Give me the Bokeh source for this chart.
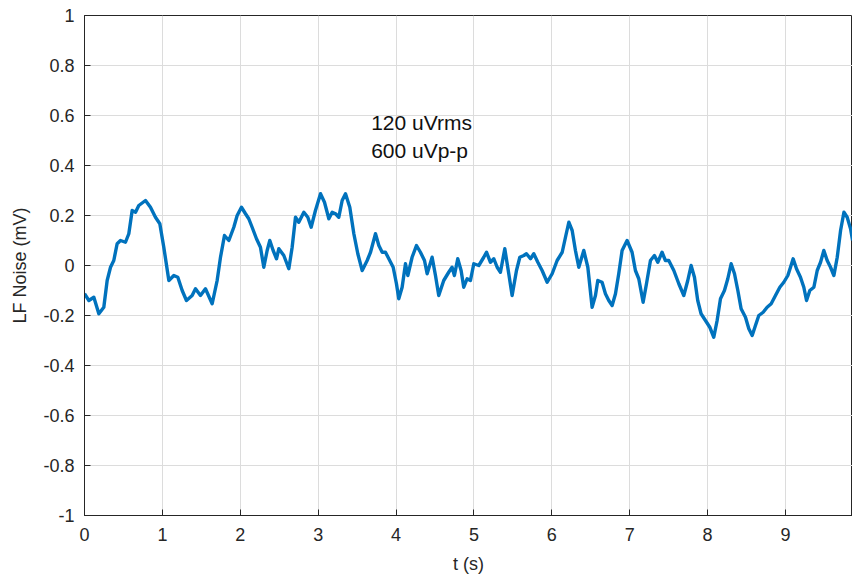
from bokeh.plotting import figure
from bokeh.models import FixedTicker, CustomJSTickFormatter, Label, Range1d
from bokeh.embed import file_html
from bokeh.resources import INLINE

t_s = [0.0, 0.056, 0.12, 0.184, 0.248, 0.291, 0.334, 0.376, 0.419, 0.462, 0.526, 0.569,
       0.612, 0.655, 0.697, 0.783, 0.847, 0.911, 0.967, 1.018, 1.083, 1.147, 1.198, 1.254,
       1.309, 1.382, 1.425, 1.489, 1.553, 1.639, 1.703, 1.746, 1.797, 1.853, 1.917, 1.96,
       2.015, 2.067, 2.109, 2.152, 2.208, 2.259, 2.302, 2.345, 2.379, 2.422, 2.465, 2.495,
       2.559, 2.623, 2.666, 2.709, 2.751, 2.816, 2.867, 2.91, 2.965, 3.03, 3.081, 3.137,
       3.18, 3.223, 3.265, 3.308, 3.351, 3.406, 3.458, 3.509, 3.565, 3.629, 3.672, 3.736,
       3.779, 3.822, 3.864, 3.907, 3.963, 4.005, 4.035, 4.078, 4.121, 4.151, 4.206, 4.262,
       4.313, 4.365, 4.399, 4.463, 4.506, 4.548, 4.612, 4.676, 4.719, 4.749, 4.792, 4.835,
       4.869, 4.912, 4.955, 4.998, 5.062, 5.126, 5.161, 5.212, 5.255, 5.298, 5.34, 5.396,
       5.447, 5.49, 5.546, 5.589, 5.64, 5.674, 5.726, 5.768, 5.82, 5.875, 5.94, 6.004,
       6.068, 6.133, 6.175, 6.218, 6.261, 6.303, 6.346, 6.41, 6.462, 6.517, 6.56, 6.59,
       6.645, 6.688, 6.731, 6.774, 6.817, 6.859, 6.902, 6.966, 7.03, 7.073, 7.116, 7.172,
       7.215, 7.266, 7.317, 7.36, 7.415, 7.458, 7.501, 7.566, 7.63, 7.694, 7.745, 7.788,
       7.831, 7.873, 7.916, 7.972, 8.028, 8.079, 8.122, 8.165, 8.216, 8.259, 8.302, 8.345,
       8.388, 8.43, 8.486, 8.529, 8.572, 8.614, 8.657, 8.713, 8.764, 8.816, 8.871, 8.927,
       8.978, 9.03, 9.064, 9.098, 9.141, 9.192, 9.235, 9.27, 9.312, 9.364, 9.407, 9.45,
       9.492, 9.535, 9.578, 9.621, 9.664, 9.707, 9.75, 9.792, 9.835, 9.861]

noise_mV = [-0.113, -0.14, -0.127, -0.193, -0.167, -0.06, -0.007, 0.02, 0.087, 0.1, 0.093, 0.127,
            0.22, 0.213, 0.24, 0.26, 0.233, 0.193, 0.167, 0.073, -0.06, -0.04, -0.047, -0.1,
            -0.14, -0.12, -0.093, -0.12, -0.093, -0.153, -0.06, 0.033, 0.12, 0.1, 0.153, 0.2,
            0.233, 0.207, 0.187, 0.153, 0.107, 0.073, -0.007, 0.06, 0.1, 0.06, 0.027, 0.067,
            0.04, -0.013, 0.073, 0.193, 0.173, 0.213, 0.193, 0.153, 0.22, 0.287, 0.253, 0.187,
            0.213, 0.207, 0.193, 0.26, 0.287, 0.233, 0.127, 0.047, -0.02, 0.02, 0.053, 0.127,
            0.08, 0.053, 0.053, 0.027, -0.007, -0.073, -0.133, -0.087, 0.007, -0.04, 0.033, 0.08,
            0.053, 0.02, -0.033, 0.033, -0.04, -0.12, -0.06, -0.027, -0.007, -0.04, 0.027, -0.02,
            -0.087, -0.053, -0.06, 0.007, 0.0, 0.033, 0.053, 0.013, 0.027, -0.007, -0.027, 0.067,
            -0.033, -0.12, -0.02, 0.033, 0.04, 0.047, 0.027, 0.047, 0.013, -0.02, -0.067, -0.033,
            0.02, 0.053, 0.113, 0.173, 0.14, 0.06, -0.007, 0.06, -0.007, -0.167, -0.12, -0.06,
            -0.067, -0.113, -0.14, -0.16, -0.113, -0.033, 0.06, 0.1, 0.053, -0.02, -0.053, -0.147,
            -0.073, 0.02, 0.04, 0.013, 0.053, 0.02, 0.02, -0.02, -0.073, -0.12, -0.06, 0.0,
            -0.047, -0.14, -0.193, -0.22, -0.247, -0.287, -0.22, -0.133, -0.1, -0.053, 0.007, -0.033,
            -0.1, -0.173, -0.207, -0.253, -0.28, -0.24, -0.2, -0.187, -0.167, -0.153, -0.12, -0.087,
            -0.067, -0.04, -0.007, 0.027, -0.013, -0.047, -0.087, -0.14, -0.1, -0.087, -0.02, 0.013,
            0.06, 0.02, -0.007, -0.04, 0.033, 0.14, 0.213, 0.193, 0.147, 0.1]

x_ticks = [0, 1, 2, 3, 4, 5, 6, 7, 8, 9]
y_ticks = [-1, -0.8, -0.6, -0.4, -0.2, 0, 0.2, 0.4, 0.6, 0.8, 1]
annot_lines = ["120 uVrms", "600 uVp-p"]
annot_y = [0.572, 0.462]

FONT = "Liberation Sans"
AX = "#262626"

p = figure(width=852, height=578, output_backend="svg", toolbar_location=None,
           x_range=Range1d(0, 9.86), y_range=Range1d(-1, 1),
           min_border_left=84, min_border_right=0, min_border_top=15, min_border_bottom=63)

p.line(t_s, noise_mV, line_color="#0072BD", line_width=3.4, line_join="round")

p.xaxis.ticker = FixedTicker(ticks=x_ticks)
p.yaxis.ticker = FixedTicker(ticks=y_ticks)
p.yaxis.formatter = CustomJSTickFormatter(code="return tick.toFixed(1).replace(/\\.0$/, '');")
p.xaxis.formatter = CustomJSTickFormatter(code="return tick.toFixed(0);")

for ax in (p.xaxis[0], p.yaxis[0]):
    ax.axis_line_color = AX
    ax.major_tick_line_color = AX
    ax.major_tick_in = 6
    ax.major_tick_out = 0
    ax.minor_tick_line_color = None
    ax.major_label_text_font = FONT
    ax.major_label_text_font_size = "18px"
    ax.major_label_text_color = AX
    ax.axis_label_text_font = FONT
    ax.axis_label_text_font_size = "18px"
    ax.axis_label_text_font_style = "normal"
    ax.axis_label_text_color = AX

p.xaxis.axis_label = "t (s)"
p.yaxis.axis_label = "LF Noise (mV)"
p.xaxis.major_label_standoff = 12
p.yaxis.major_label_standoff = 10
p.xaxis.axis_label_standoff = 10
p.yaxis.axis_label_standoff = 10

p.xgrid.grid_line_color = "#dcdcdc"
p.ygrid.grid_line_color = "#dcdcdc"
p.outline_line_color = AX
p.outline_line_width = 1
p.background_fill_color = "white"
p.border_fill_color = "white"

for txt, yy in zip(annot_lines, annot_y):
    p.add_layout(Label(x=3.68, y=yy, text=txt, text_font=FONT,
                       text_font_size="21px", text_color="#111111",
                       text_baseline="middle", text_align="left"))

open("out.html", "w").write(file_html(p, INLINE))
